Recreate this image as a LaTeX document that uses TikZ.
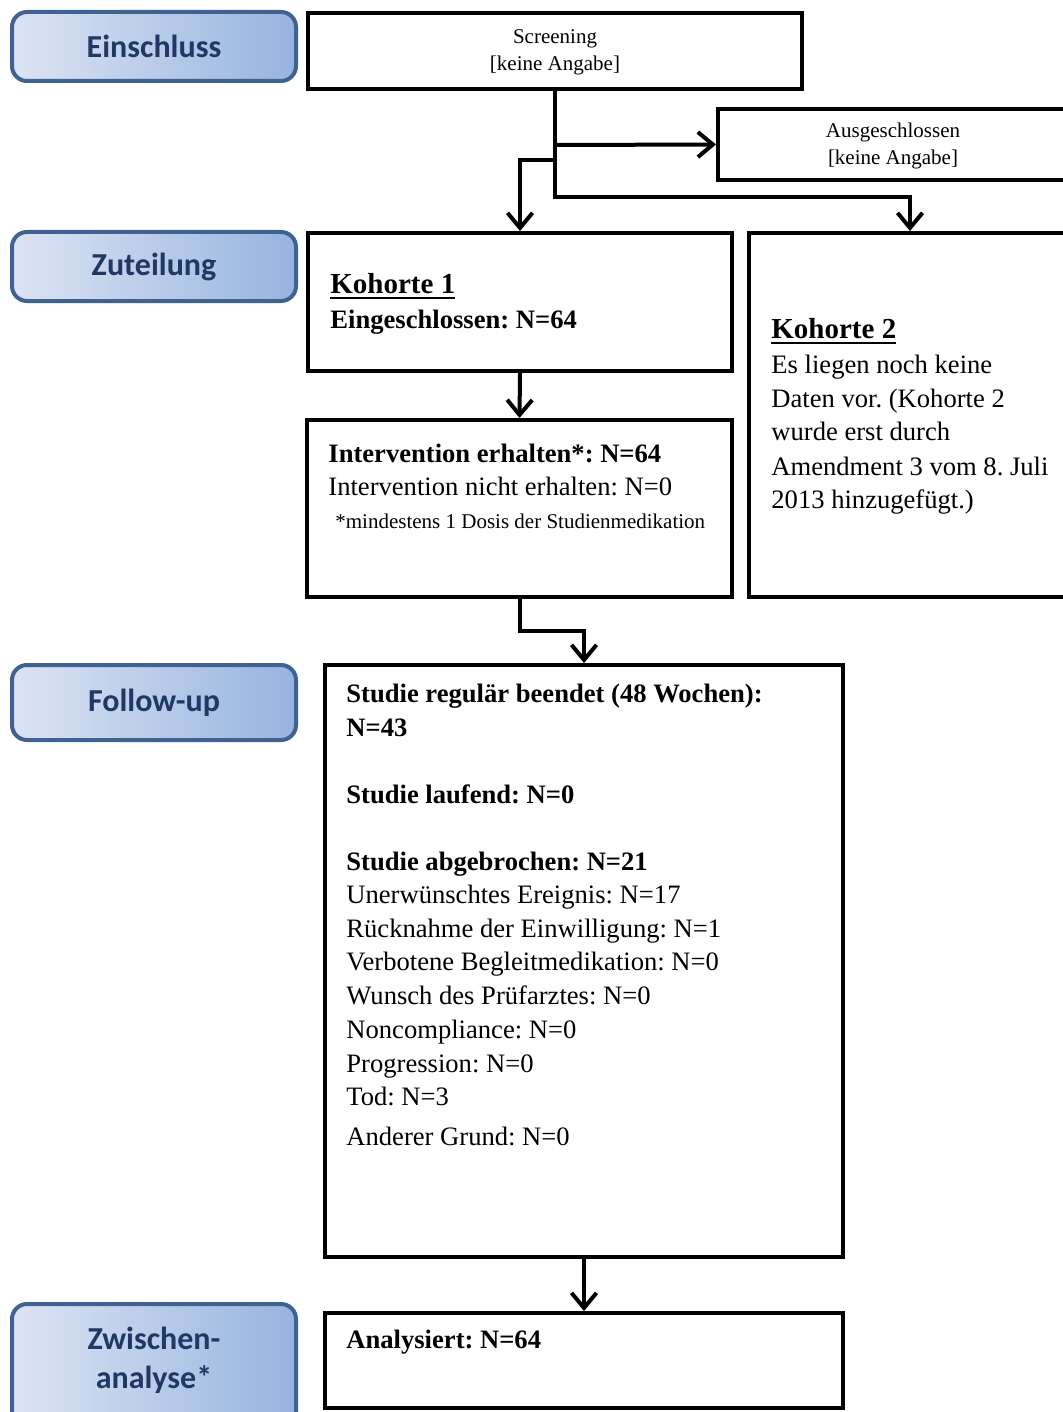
\documentclass[tikz,border=0pt]{standalone}
\usepackage{fontspec}
\setmainfont{Liberation Serif}
\newfontfamily\labfont{Carlito}
\usetikzlibrary{arrows.meta,calc}
\definecolor{labtext}{HTML}{1F3864}
\definecolor{labborder}{HTML}{3F6290}
\definecolor{lableft}{HTML}{DCE4F3}
\definecolor{labright}{HTML}{97B3DF}
\newcommand\thickul[1]{\setbox0\hbox{#1}\rlap{\rule[-3pt]{\wd0}{1.2pt}}\box0}
\tikzset{
  box/.style={draw=black, line width=2pt, rectangle, inner sep=0pt, fill=white},
  lab/.style={draw=labborder, line width=2pt, rounded corners=7.5pt, left color=lableft, right color=labright,
    minimum width=142pt, inner sep=0pt, text=labtext, font=\labfont\fontsize{16}{19.5}\selectfont\bfseries, align=center},
  labtxt/.style={inner sep=0pt, text=labtext, font=\labfont\fontsize{16}{19.5}\selectfont\bfseries, align=center},
  arr/.style={draw=black, line width=2pt, -{Straight Barb[length=7.5pt,width=12.5pt]}},
  txt/.style={anchor=base west, inner sep=0pt, font=\frenchspacing\fontsize{13.3}{16}\selectfont},
  txtb/.style={txt, font=\frenchspacing\fontsize{13.3}{16}\selectfont\bfseries},
  head/.style={anchor=base west, inner sep=0pt, font=\frenchspacing\fontsize{14.5}{17}\selectfont\bfseries},
  smalltxt/.style={anchor=base, inner sep=0pt, font=\frenchspacing\fontsize{10.5}{13}\selectfont},
}
\begin{document}
\frenchspacing
\begin{tikzpicture}[x=0.5pt,y=-0.5pt]
\useasboundingbox (0,0) rectangle (1063,1412);
\clip (0,0) rectangle (1063,1412);

% phase labels
\node[lab, minimum height=34.5pt] (ein) at (154,46.5) {Einschluss};
\node[lab, minimum height=34.5pt] (zut) at (154,266.5) {Zuteilung};
\node[lab, minimum height=37.5pt] (fol) at (154,702.5) {Follow-up};
\node[lab, minimum height=73pt] (zwi) at (154,1377) {};
\node[labtxt] (zwitxt) at (154,1360) {Zwischen-\\analyse*};

% boxes
\node[box, minimum width=247pt, minimum height=38pt] (screen) at (555,51) {};
\node[box, minimum width=175pt, minimum height=35.5pt] (ausg) at (893,144.5) {};
\node[box, minimum width=212pt, minimum height=69pt] (k1) at (520,302) {};
\node[box, minimum width=163pt, minimum height=182pt] (k2) at (912,415) {};
\node[box, minimum width=212.5pt, minimum height=88.5pt] (interv) at (519.5,508.5) {};
\node[box, minimum width=259pt, minimum height=296pt] (fu) at (584,961) {};
\node[box, minimum width=259pt, minimum height=47.5pt] (anal) at (584,1360.5) {};

% screening / ausgeschlossen text
\node[smalltxt] (scr1) at (555,44) {Screening};
\node[smalltxt] (scr2) at (555,71) {[keine Angabe]};
\node[smalltxt] (aus1) at (893,138) {Ausgeschlossen};
\node[smalltxt] (aus2) at (893,165) {[keine Angabe]};

% Kohorte 1
\node[head] (k1h) at (330,293) {\thickul{Kohorte 1}};
\node[txtb] (k1a) at (330,328) {Eingeschlossen: N=64};

% Kohorte 2
\node[head] (k2h) at (771,338) {\thickul{Kohorte 2}};
\node[txt] (k2a) at (771,373) {Es liegen noch keine};
\node[txt] (k2b) at (771,407) {Daten vor. (Kohorte 2};
\node[txt] (k2c) at (771,440) {wurde erst durch};
\node[txt] (k2d) at (771,475) {Amendment 3 vom 8. Juli};
\node[txt] (k2e) at (771,508) {2013 hinzugefügt.)};

% Intervention
\node[txtb] (iv1) at (328,462) {Intervention erhalten*: N=64};
\node[txt] (iv2) at (328,495) {Intervention nicht erhalten: N=0};
\node[smalltxt, anchor=base west] (iv3) at (335,528) {*mindestens 1 Dosis der Studienmedikation};

% Follow-up
\node[txtb] (fu1) at (346,702) {Studie regulär beendet (48 Wochen):};
\node[txtb] (fu2) at (346,736) {N=43};
\node[txtb] (fu3) at (346,803) {Studie laufend: N=0};
\node[txtb] (fu4) at (346,870) {Studie abgebrochen: N=21};
\node[txt] (fu5) at (346,903.5) {Unerwünschtes Ereignis: N=17};
\node[txt] (fu6) at (346,937) {Rücknahme der Einwilligung: N=1};
\node[txt] (fu7) at (346,970.5) {Verbotene Begleitmedikation: N=0};
\node[txt] (fu8) at (346,1004) {Wunsch des Prüfarztes: N=0};
\node[txt] (fu9) at (346,1038) {Noncompliance: N=0};
\node[txt] (fu10) at (346,1072) {Progression: N=0};
\node[txt] (fu11) at (346,1105.5) {Tod: N=3};
\node[txt] (fu12) at (346,1145) {Anderer Grund: N=0};

% Analysiert
\node[txtb] (an1) at (346,1348) {Analysiert: N=64};

% connectors
\coordinate (j1) at (910,197);
\coordinate (t1) at (555,145);
\coordinate (t2) at (555,160);
\coordinate (j2) at (584,631);
\draw[arr] (screen.south) |- (j1) -- (j1 |- k2.north);
\draw[arr] (t1) -- (ausg.west);
\draw[arr] (t2) -| (k1.north);
\draw[arr] (k1.south) -- (interv.north);
\draw[arr] (interv.south) |- (j2) -- (fu.north);
\draw[arr] (fu.south) -- (anal.north);
\end{tikzpicture}
\end{document}
